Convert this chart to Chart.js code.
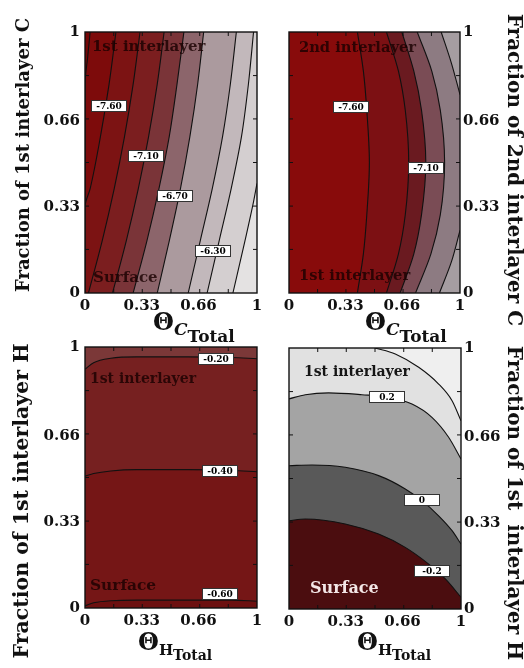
<!DOCTYPE html>
<html>
<head>
<meta charset="utf-8">
<title>Contour maps</title>
<script src="https://cdn.jsdelivr.net/npm/chart.js@4.4.1/dist/chart.umd.min.js"></script>
<style>
  body { margin: 0; background: #fff; }
  #page { position: relative; width: 524px; height: 668px; }
  #page canvas { position: absolute; left: 0; top: 0; }
</style>
</head>
<body>
<div id="page">
  <canvas id="chartTL" width="524" height="668"></canvas>
  <canvas id="chartTR" width="524" height="668"></canvas>
  <canvas id="chartBL" width="524" height="668"></canvas>
  <canvas id="chartBR" width="524" height="668"></canvas>
</div>
<script>
// Shared axis ticks
const tickValues = [0, 0.33, 0.66, 1];
const tickLabels = ['0', '0.33', '0.66', '1'];
const minorTickValues = [0.167, 0.333, 0.5, 0.667, 0.833];

// Top left - 1st interlayer C vs total C coverage (contours run bottom -> top)
const tlLine1 = [{x: 0, y: 0}, {x: 0, y: 0.8}, {x: 0.015, y: 0.9}, {x: 0.03, y: 1}];
const tlLine2 = [{x: 0, y: 0}, {x: 0, y: 0.33}, {x: 0.03, y: 0.4}, {x: 0.09, y: 0.6}, {x: 0.14, y: 0.8}, {x: 0.18, y: 1}];
const tlLine3 = [{x: 0.02, y: 0}, {x: 0.10, y: 0.2}, {x: 0.17, y: 0.4}, {x: 0.23, y: 0.6}, {x: 0.28, y: 0.8}, {x: 0.32, y: 1}];
const tlLine4 = [{x: 0.16, y: 0}, {x: 0.24, y: 0.2}, {x: 0.31, y: 0.4}, {x: 0.37, y: 0.6}, {x: 0.42, y: 0.8}, {x: 0.46, y: 1}];
const tlLine5 = [{x: 0.28, y: 0}, {x: 0.36, y: 0.2}, {x: 0.43, y: 0.4}, {x: 0.49, y: 0.6}, {x: 0.535, y: 0.8}, {x: 0.575, y: 1}];
const tlLine6 = [{x: 0.42, y: 0}, {x: 0.49, y: 0.2}, {x: 0.555, y: 0.4}, {x: 0.61, y: 0.6}, {x: 0.655, y: 0.8}, {x: 0.69, y: 1}];
const tlLine7 = [{x: 0.60, y: 0}, {x: 0.67, y: 0.2}, {x: 0.74, y: 0.4}, {x: 0.80, y: 0.6}, {x: 0.845, y: 0.8}, {x: 0.88, y: 1}];
const tlLine8 = [{x: 0.71, y: 0}, {x: 0.78, y: 0.2}, {x: 0.85, y: 0.4}, {x: 0.91, y: 0.6}, {x: 0.95, y: 0.8}, {x: 0.98, y: 1}];
const tlLine9 = [{x: 0.86, y: 0}, {x: 0.93, y: 0.2}, {x: 0.98, y: 0.35}, {x: 1, y: 0.42}];
const tlLabelValues = ['-7.60', '-7.10', '-6.70', '-6.30'];
const tlLabelX = [0.137, 0.352, 0.523, 0.744];
const tlLabelY = [0.716, 0.525, 0.372, 0.161];

// Top right - 2nd interlayer C
const trLine1 = [{x: 0.40, y: 0}, {x: 0.435, y: 0.15}, {x: 0.455, y: 0.3}, {x: 0.47, y: 0.5}, {x: 0.455, y: 0.7}, {x: 0.435, y: 0.85}, {x: 0.40, y: 1}];
const trLine2 = [{x: 0.57, y: 0}, {x: 0.64, y: 0.15}, {x: 0.68, y: 0.3}, {x: 0.70, y: 0.5}, {x: 0.68, y: 0.7}, {x: 0.64, y: 0.85}, {x: 0.57, y: 1}];
const trLine3 = [{x: 0.65, y: 0}, {x: 0.73, y: 0.15}, {x: 0.775, y: 0.3}, {x: 0.80, y: 0.5}, {x: 0.775, y: 0.7}, {x: 0.73, y: 0.85}, {x: 0.66, y: 1}];
const trLine4 = [{x: 0.74, y: 0}, {x: 0.83, y: 0.15}, {x: 0.885, y: 0.3}, {x: 0.91, y: 0.5}, {x: 0.885, y: 0.7}, {x: 0.835, y: 0.85}, {x: 0.75, y: 1}];
const trLine5 = [{x: 0.88, y: 0}, {x: 0.95, y: 0.12}, {x: 1, y: 0.24}];
const trLine6 = [{x: 1, y: 0.76}, {x: 0.95, y: 0.88}, {x: 0.89, y: 1}];
const trLabelValues = ['-7.60', '-7.10'];
const trLabelX = [0.363, 0.80];
const trLabelY = [0.713, 0.479];

// Bottom left - 1st interlayer H (contours run left -> right)
const blLine1 = [{x: 0, y: 0.008}, {x: 0.05, y: 0.02}, {x: 0.15, y: 0.028}, {x: 0.3, y: 0.03}, {x: 0.6, y: 0.03}, {x: 0.85, y: 0.03}, {x: 1, y: 0.026}];
const blLine2 = [{x: 0, y: 0.505}, {x: 0.05, y: 0.515}, {x: 0.15, y: 0.525}, {x: 0.3, y: 0.53}, {x: 0.6, y: 0.53}, {x: 0.85, y: 0.528}, {x: 1, y: 0.522}];
const blLine3 = [{x: 0, y: 0.915}, {x: 0.05, y: 0.94}, {x: 0.15, y: 0.957}, {x: 0.3, y: 0.962}, {x: 0.6, y: 0.962}, {x: 0.85, y: 0.96}, {x: 1, y: 0.955}];
const blLabelValues = ['-0.20', '-0.40', '-0.60'];
const blLabelX = [0.76, 0.785, 0.785];
const blLabelY = [0.954, 0.525, 0.054];

// Bottom right - 1st interlayer H (relative energies)
const brLine1 = [{x: 0, y: 0.338}, {x: 0.095, y: 0.345}, {x: 0.327, y: 0.326}, {x: 0.521, y: 0.287}, {x: 0.676, y: 0.236}, {x: 0.812, y: 0.172}, {x: 0.909, y: 0.115}, {x: 1, y: 0.045}];
const brLine2 = [{x: 0, y: 0.549}, {x: 0.134, y: 0.552}, {x: 0.327, y: 0.543}, {x: 0.521, y: 0.511}, {x: 0.676, y: 0.46}, {x: 0.773, y: 0.415}, {x: 0.87, y: 0.357}, {x: 0.948, y: 0.30}, {x: 1, y: 0.249}];
const brLine3 = [{x: 0, y: 0.805}, {x: 0.095, y: 0.821}, {x: 0.23, y: 0.828}, {x: 0.424, y: 0.821}, {x: 0.579, y: 0.811}, {x: 0.715, y: 0.785}, {x: 0.831, y: 0.734}, {x: 0.928, y: 0.658}, {x: 1, y: 0.575}];
const brLine4 = [{x: 0.50, y: 1}, {x: 0.618, y: 0.977}, {x: 0.754, y: 0.926}, {x: 0.870, y: 0.862}, {x: 0.948, y: 0.798}, {x: 1, y: 0.721}];
const brLabelValues = ['0.2', '0', '-0.2'];
const brLabelX = [0.57, 0.776, 0.83];
const brLabelY = [0.814, 0.416, 0.146];

const W = 524, H = 668;
const serif = '"DejaVu Serif"';

function panelPlugin(p) {
    return {
        id: 'panel',
        beforeDatasetsDraw(chart) {
            const {ctx, chartArea: a} = chart;
            ctx.save();
            ctx.fillStyle = p.colors[0];
            ctx.fillRect(a.left, a.top, a.width, a.height);
            ctx.restore();
        },
        afterDatasetsDraw(chart) {
            const {ctx, chartArea: a, scales: {x, y}} = chart;
            ctx.save();

            // region names
            ctx.textAlign = 'left';
            ctx.textBaseline = 'middle';
            p.names.forEach(n => {
                ctx.font = 'bold ' + n.size + 'px ' + serif;
                ctx.fillStyle = n.color;
                ctx.fillText(n.text, x.getPixelForValue(n.x), y.getPixelForValue(n.y));
            });

            // contour value boxes
            ctx.textAlign = 'center';
            ctx.font = 'bold 9px ' + serif;
            p.labelValues.forEach((t, i) => {
                const cx = Math.round(x.getPixelForValue(p.labelX[i]));
                const cy = Math.round(y.getPixelForValue(p.labelY[i]));
                ctx.fillStyle = '#fff';
                ctx.fillRect(cx - 18, cy - 6, 36, 12);
                ctx.strokeStyle = '#333';
                ctx.lineWidth = 1;
                ctx.strokeRect(cx - 17.5, cy - 5.5, 35, 11);
                ctx.fillStyle = '#000';
                ctx.fillText(t, cx, cy + 0.5);
            });

            // frame with small inner ticks
            ctx.strokeStyle = '#111';
            ctx.lineWidth = 1.4;
            ctx.strokeRect(a.left, a.top, a.width, a.height);
            ctx.lineWidth = 1;
            ctx.beginPath();
            minorTickValues.forEach(v => {
                const px = x.getPixelForValue(v), py = y.getPixelForValue(v);
                ctx.moveTo(px, a.bottom); ctx.lineTo(px, a.bottom - 4);
                ctx.moveTo(px, a.top); ctx.lineTo(px, a.top + 4);
                ctx.moveTo(a.left, py); ctx.lineTo(a.left + 4, py);
                ctx.moveTo(a.right, py); ctx.lineTo(a.right - 4, py);
            });
            ctx.stroke();
            ctx.restore();
        },
        afterDraw(chart) {
            const ctx = chart.ctx;
            ctx.save();
            ctx.fillStyle = '#111';

            // y title (rotated)
            const t = p.yTitle;
            ctx.translate(t.x, t.y);
            ctx.rotate(t.side === 'left' ? -Math.PI / 2 : Math.PI / 2);
            ctx.font = 'bold ' + t.size + 'px ' + serif;
            ctx.textAlign = 'center';
            ctx.textBaseline = 'alphabetic';
            ctx.fillText(t.text, 0, 0);
            ctx.setTransform(1, 0, 0, 1, 0, 0);

            // x title: Theta with subscripts
            const s = p.xTitle;
            ctx.textAlign = 'left';
            let cx = s.x;
            ctx.font = 'bold 24px ' + serif;
            ctx.fillText('\u0398', cx, s.base);
            cx += ctx.measureText('\u0398').width;
            ctx.font = s.subFont;
            ctx.fillText(s.sub, cx, s.base + s.subDrop);
            cx += ctx.measureText(s.sub).width;
            ctx.font = s.totalFont;
            ctx.fillText('Total', cx, s.base + s.totalDrop);
            ctx.restore();
        }
    };
}

function makePanel(id, p) {
    const [left, top, right, bottom] = p.frame;
    const axisW = 45, axisH = 30;
    const padding = {
        top: top,
        bottom: H - bottom - axisH,
        left: p.ySide === 'left' ? left - axisW : left,
        right: p.ySide === 'left' ? W - right : W - right - axisW
    };
    const tickFont = {family: 'DejaVu Serif', weight: 'bold', size: 15};

    const datasets = p.lines.map((line, i) => ({
        data: line,
        fill: {value: 1},
        backgroundColor: p.colors[i + 1],
        borderColor: '#111',
        borderWidth: 1.1,
        pointRadius: 0,
        cubicInterpolationMode: 'monotone',
        order: p.lines.length - i
    }));

    new Chart(document.getElementById(id), {
        type: 'line',
        data: {datasets: datasets},
        options: {
            responsive: false,
            animation: false,
            events: [],
            indexAxis: p.indexAxis,
            layout: {padding: padding},
            plugins: {
                legend: {display: false},
                tooltip: {enabled: false}
            },
            scales: {
                x: {
                    type: 'linear',
                    position: 'bottom',
                    min: 0,
                    max: 1,
                    grid: {display: false, drawTicks: false},
                    border: {display: false},
                    afterBuildTicks: scale => {
                        scale.ticks = tickValues.map(v => ({value: v}));
                    },
                    ticks: {
                        autoSkip: false,
                        maxRotation: 0,
                        padding: 4,
                        color: '#111',
                        font: tickFont,
                        callback: (value, index) => tickLabels[index]
                    },
                    afterFit: scale => {
                        scale.height = axisH;
                        scale.paddingLeft = 0;
                        scale.paddingRight = 0;
                    }
                },
                y: {
                    type: 'linear',
                    position: p.ySide,
                    min: 0,
                    max: 1,
                    grid: {display: false, drawTicks: false},
                    border: {display: false},
                    afterBuildTicks: scale => {
                        scale.ticks = tickValues.map(v => ({value: v}));
                    },
                    ticks: {
                        autoSkip: false,
                        padding: p.ySide === 'left' ? 5 : 3,
                        color: '#111',
                        font: tickFont,
                        callback: (value, index) => tickLabels[index]
                    },
                    afterFit: scale => {
                        scale.width = axisW;
                        scale.paddingTop = 0;
                        scale.paddingBottom = 0;
                    }
                }
            }
        },
        plugins: [panelPlugin(p)]
    });
}

const regionText = 'rgba(25, 0, 0, 0.8)';

makePanel('chartTL', {
    frame: [85, 32, 257, 293],
    ySide: 'left',
    indexAxis: 'y',
    lines: [tlLine1, tlLine2, tlLine3, tlLine4, tlLine5, tlLine6, tlLine7, tlLine8, tlLine9],
    colors: ['#760606', '#7d0b0b', '#7c1313', '#7b1e1f', '#7a3438', '#8c656b', '#ab9a9e', '#c2b8bb', '#d4cfd0', '#e4e2e2'],
    labelValues: tlLabelValues, labelX: tlLabelX, labelY: tlLabelY,
    names: [
        {text: '1st interlayer', x: 0.04, y: 0.943, size: 15, color: regionText},
        {text: 'Surface', x: 0.047, y: 0.057, size: 15, color: regionText}
    ],
    yTitle: {text: 'Fraction of 1st interlayer C', side: 'left', x: 29, y: 155, size: 18},
    xTitle: {x: 153, base: 330, sub: 'C', subFont: 'italic bold 17px ' + serif, subDrop: 5,
             totalFont: 'bold 17px ' + serif, totalDrop: 12}
});

makePanel('chartTR', {
    frame: [289, 32, 460, 293],
    ySide: 'right',
    indexAxis: 'y',
    lines: [trLine1, trLine2, trLine3, trLine4, trLine5, trLine6],
    colors: ['#880b0b', '#7c1013', '#6a1a20', '#7a4c55', '#8d7b82', '#a59da1', '#a59da1'],
    labelValues: trLabelValues, labelX: trLabelX, labelY: trLabelY,
    names: [
        {text: '2nd interlayer', x: 0.058, y: 0.939, size: 14.7, color: regionText},
        {text: '1st interlayer', x: 0.058, y: 0.065, size: 14.7, color: regionText}
    ],
    yTitle: {text: 'Fraction of 2nd interlayer C', side: 'right', x: 508, y: 170, size: 20},
    xTitle: {x: 365, base: 330, sub: 'C', subFont: 'italic bold 17px ' + serif, subDrop: 5,
             totalFont: 'bold 17px ' + serif, totalDrop: 12}
});

makePanel('chartBL', {
    frame: [85, 347, 257, 608],
    ySide: 'left',
    indexAxis: 'x',
    lines: [blLine1, blLine2, blLine3],
    colors: ['#6c1010', '#751616', '#762020', '#7b3838'],
    labelValues: blLabelValues, labelX: blLabelX, labelY: blLabelY,
    names: [
        {text: '1st interlayer', x: 0.029, y: 0.877, size: 14, color: regionText},
        {text: 'Surface', x: 0.029, y: 0.084, size: 15.4, color: regionText}
    ],
    yTitle: {text: 'Fraction of 1st interlayer H', side: 'left', x: 28, y: 501, size: 20.5},
    xTitle: {x: 138, base: 650, sub: 'H', subFont: 'bold 15px ' + serif, subDrop: 5,
             totalFont: 'bold 14px ' + serif, totalDrop: 10}
});

makePanel('chartBR', {
    frame: [289, 348, 461, 609],
    ySide: 'right',
    indexAxis: 'x',
    lines: [brLine1, brLine2, brLine3, brLine4],
    colors: ['#4b0d0f', '#595959', '#a4a4a4', '#e1e1e1', '#efefef'],
    labelValues: brLabelValues, labelX: brLabelX, labelY: brLabelY,
    names: [
        {text: '1st interlayer', x: 0.087, y: 0.908, size: 14, color: '#151515'},
        {text: 'Surface', x: 0.122, y: 0.077, size: 16, color: '#f3e6e6'}
    ],
    yTitle: {text: 'Fraction of 1st  interlayer H', side: 'right', x: 508, y: 503, size: 20},
    xTitle: {x: 357, base: 650, sub: 'H', subFont: 'bold 15px ' + serif, subDrop: 5,
             totalFont: 'bold 14px ' + serif, totalDrop: 10}
});
</script>
</body>
</html>
